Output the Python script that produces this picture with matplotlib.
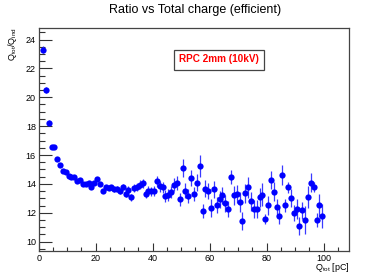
import matplotlib
matplotlib.use("Agg")
import matplotlib.pyplot as plt
from matplotlib.ticker import MultipleLocator

plt.rcParams['font.family'] = ['Liberation Sans', 'DejaVu Sans']
plt.rcParams['mathtext.fontset'] = 'custom'
plt.rcParams['mathtext.rm'] = 'Liberation Sans'
plt.rcParams['mathtext.it'] = 'Liberation Sans:italic'

# ---- data ----
q_tot = [1.5, 2.5, 3.5, 4.5, 5.5, 6.5, 7.5, 8.5, 9.5, 10.5,
         11.5, 12.5, 13.5, 14.5, 15.5, 16.5, 17.5, 18.5, 19.5, 20.5,
         21.5, 22.5, 23.5, 24.5, 25.5, 26.5, 27.5, 28.5, 29.5, 30.5,
         31.5, 32.5, 33.5, 34.5, 35.5, 36.5, 37.5, 38.5, 39.5, 40.5,
         41.5, 42.5, 43.5, 44.5, 45.5, 46.5, 47.5, 48.5, 49.5, 50.5,
         51.5, 52.5, 53.5, 54.5, 55.5, 56.5, 57.5, 58.5, 59.5, 60.5,
         61.5, 62.5, 63.5, 64.5, 65.5, 66.5, 67.5, 68.5, 69.5, 70.5,
         71.5, 72.5, 73.5, 74.5, 75.5, 76.5, 77.5, 78.5, 79.5, 80.5,
         81.5, 82.5, 83.5, 84.5, 85.5, 86.5, 87.5, 88.5, 89.5, 90.5,
         91.5, 92.5, 93.5, 94.5, 95.5, 96.5, 97.5, 98.5, 99.5]
ratio = [23.3, 20.5, 18.25, 16.53, 16.55, 15.72, 15.3, 14.9, 14.8, 14.56,
         14.5, 14.5, 14.22, 14.27, 14.0, 13.97, 14.03, 13.8, 14.08, 14.31,
         14.0, 13.53, 13.76, 13.71, 13.76, 13.62, 13.67, 13.48, 13.8, 13.3,
         13.58, 13.07, 13.71, 13.8, 13.95, 14.04, 13.3, 13.53, 13.48, 13.53,
         14.18, 13.85, 13.76, 13.16, 13.25, 13.44, 13.95, 14.08, 12.93, 15.1,
         13.53, 13.16, 14.4, 13.3, 14.08, 15.26, 12.14, 13.67, 13.48, 12.33,
         13.62, 12.56, 12.93, 13.2, 12.65, 12.26, 14.47, 13.2, 13.3, 12.75,
         11.43, 13.35, 13.76, 12.8, 12.26, 12.26, 13.07, 13.25, 11.57, 12.52,
         14.27, 13.46, 12.38, 11.78, 14.63, 12.52, 13.76, 13.02, 11.96, 12.24,
         11.09, 12.17, 11.5, 13.11, 14.08, 13.76, 11.48, 12.52, 11.78]
ratio_err = [0.25, 0.2, 0.18, 0.14, 0.14, 0.12, 0.1, 0.1, 0.1, 0.1,
             0.1, 0.1, 0.1, 0.1, 0.1, 0.1, 0.12, 0.12, 0.13, 0.14,
             0.14, 0.15, 0.15, 0.16, 0.17, 0.17, 0.18, 0.2, 0.22, 0.2,
             0.24, 0.24, 0.26, 0.28, 0.3, 0.32, 0.3, 0.32, 0.33, 0.35,
             0.4, 0.38, 0.36, 0.4, 0.42, 0.42, 0.45, 0.48, 0.45, 0.65,
             0.5, 0.5, 0.55, 0.5, 0.6, 0.75, 0.5, 0.6, 0.55, 0.6,
             0.6, 0.55, 0.6, 0.6, 0.6, 0.55, 0.5, 0.65, 0.65, 0.7,
             0.6, 0.65, 0.75, 0.65, 0.6, 0.6, 0.65, 0.8, 0.35, 0.65,
             0.6, 0.65, 0.6, 0.55, 0.7, 0.45, 0.4, 0.6, 0.55, 0.7,
             0.6, 0.6, 0.95, 0.75, 0.65, 0.35, 0.5, 0.8, 0.85]

fig = plt.figure(figsize=(3.89, 2.80), dpi=100)
ax = fig.add_axes([38.7/389, 1 - 251/280, (349 - 38.7)/389, (251 - 28)/280])

ax.errorbar(q_tot, ratio, yerr=ratio_err, fmt='o', color='#0000ff',
            ecolor='#3a3aff', elinewidth=0.9, capsize=1.2, capthick=0.9,
            markersize=4.5, markeredgewidth=0)

ax.set_xlim(0, 108.9)
ax.set_ylim(9.35, 24.8)

ax.xaxis.set_major_locator(MultipleLocator(20))
ax.xaxis.set_minor_locator(MultipleLocator(5))
ax.yaxis.set_major_locator(MultipleLocator(2))
ax.yaxis.set_minor_locator(MultipleLocator(0.5))

ax.tick_params(axis='both', which='both', direction='in', top=False, right=False,
               labelsize=6.5, width=0.8, color='#333333')
ax.tick_params(axis='x', which='major', length=6, pad=2)
ax.tick_params(axis='x', which='minor', length=3)
ax.tick_params(axis='y', which='major', length=9, pad=2)
ax.tick_params(axis='y', which='minor', length=4.5)

for s in ax.spines.values():
    s.set_linewidth(0.9)
    s.set_color('#444444')

fig.text(195/389, 1 - 10/280, 'Ratio vs Total charge (efficient)',
         ha='center', va='center', fontsize=9)
fig.text(349.5/389, 1 - 268/280, r'Q$_{\mathrm{tot}}$ [pC]',
         ha='right', va='center', fontsize=6.5)
fig.text(13/389, 1 - 27/280, r'Q$_{\mathrm{tot}}$/Q$_{\mathrm{ind}}$',
         ha='center', va='top', rotation=90, fontsize=6.5)

fig.text(219/389, 1 - 59.5/280, 'RPC 2mm (10kV)', ha='center', va='center',
         fontsize=7.2, fontweight='bold', color='#ff0000',
         bbox=dict(boxstyle='square,pad=0.5', facecolor='white',
                   edgecolor='#444444', linewidth=0.9))

fig.savefig('out.png', dpi=100)
